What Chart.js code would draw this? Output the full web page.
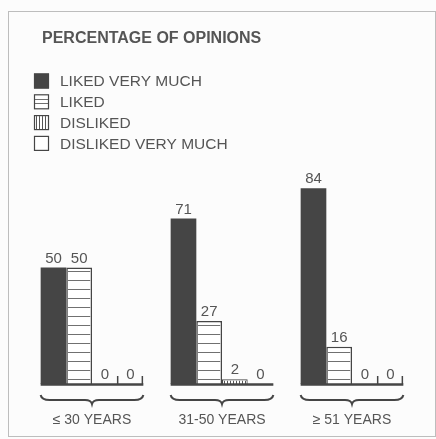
<!DOCTYPE html>
<html>
<head>
<meta charset="utf-8">
<script src="https://cdn.jsdelivr.net/npm/chart.js@4.4.1/dist/chart.umd.min.js"></script>
<style>
  html, body { margin: 0; padding: 0; background: #fcfcfc; }
  #chart { display: block; }
</style>
</head>
<body>
<canvas id="chart" width="436" height="439"></canvas>
<script>
// ── data ──
const categories = ['\u2264 30 YEARS', '31-50 YEARS', '\u2265 51 YEARS'];
const seriesNames = ['LIKED VERY MUCH', 'LIKED', 'DISLIKED', 'DISLIKED VERY MUCH'];
const likedVeryMuch = [50, 71, 84];
const liked = [50, 27, 16];
const disliked = [0, 2, 0];
const dislikedVeryMuch = [0, 0, 0];
const chartTitle = 'PERCENTAGE OF OPINIONS';

const INK = '#454545';
const TEXT = '#555';
const FONT = '"Liberation Sans", Arial, Helvetica, sans-serif';

// hatch style per series: none / horizontal / vertical / none
const hatch = [null, { dir: 'h', step: 9, color: '#707070' }, { dir: 'v', step: 3, color: '#555' }, null];
const fills = [INK, '#fff', '#fff', '#fff'];

function drawHatch(ctx, x, y, w, h, style) {
  if (!style || h <= 0) return;
  ctx.save();
  ctx.beginPath();
  ctx.rect(x, y, w, h);
  ctx.clip();
  ctx.fillStyle = style.color;
  if (style.dir === 'h') {
    for (let yy = y + h - 5; yy > y; yy -= style.step) ctx.fillRect(x, Math.round(yy), w, 1);
  } else {
    for (let xx = x + 1; xx < x + w; xx += style.step) ctx.fillRect(Math.round(xx), y, 1, h);
  }
  ctx.restore();
}

// ── draw title, legend, baselines, labels, braces ──
const decorations = {
  id: 'decorations',
  beforeDraw(chart) {
    const ctx = chart.ctx;
    ctx.save();
    ctx.fillStyle = '#fcfcfc';
    ctx.fillRect(0, 0, chart.width, chart.height);
    // frame
    ctx.strokeStyle = '#bdbdbd';
    ctx.lineWidth = 1;
    ctx.strokeRect(8.5, 11.5, 427, 425);
    // title
    ctx.fillStyle = TEXT;
    ctx.font = 'bold 16px ' + FONT;
    ctx.textBaseline = 'middle';
    ctx.fillText(chartTitle, 42, 39);
    // legend
    ctx.font = '15.5px ' + FONT;
    seriesNames.forEach((name, i) => {
      const y = 81 + i * 20.8;
      ctx.fillStyle = fills[i];
      ctx.fillRect(34, y - 7.5, 15, 15);
      if (hatch[i]) drawHatch(ctx, 35, y - 6.5, 13, 13, Object.assign({}, hatch[i], { step: hatch[i].dir === 'h' ? 4 : 3 }));
      ctx.strokeStyle = INK;
      ctx.lineWidth = 1.2;
      ctx.strokeRect(34.5, y - 7, 14, 14);
      ctx.fillStyle = TEXT;
      ctx.fillText(name, 60, y + 1);
    });
    ctx.restore();
  },
  afterDatasetsDraw(chart) {
    const ctx = chart.ctx;
    const metas = chart.data.datasets.map((_, i) => chart.getDatasetMeta(i));
    const yBase = chart.scales.y.getPixelForValue(0);
    ctx.save();
    // hatching inside bars
    metas.forEach((m, di) => {
      m.data.forEach(el => {
        const bw = chart.data.datasets[di].borderWidth || 0;
        drawHatch(ctx, el.x - el.width / 2 + bw, el.y + bw, el.width - 2 * bw, yBase - el.y - bw, hatch[di]);
      });
    });
    ctx.strokeStyle = INK;
    ctx.fillStyle = TEXT;
    categories.forEach((cat, gi) => {
      const first = metas[0].data[gi];
      const last = metas[metas.length - 1].data[gi];
      const L = first.x - first.width / 2;
      const R = last.x + last.width / 2;
      const C = chart.scales.x.getPixelForValue(gi);
      // baseline
      ctx.lineWidth = 2.5;
      ctx.beginPath();
      ctx.moveTo(L, yBase + 0.5);
      ctx.lineTo(R, yBase + 0.5);
      ctx.stroke();
      // little ticks where the last two bars are empty
      if (disliked[gi] === 0 && dislikedVeryMuch[gi] === 0) {
        const el = metas[3].data[gi];
        ctx.lineWidth = 1.5;
        [el.x - el.width / 2, el.x + el.width / 2 - 1].forEach(tx => {
          ctx.beginPath();
          ctx.moveTo(tx, yBase);
          ctx.lineTo(tx, yBase - 8);
          ctx.stroke();
        });
      }
      // value labels
      ctx.font = '15px ' + FONT;
      ctx.textAlign = 'center';
      ctx.textBaseline = 'alphabetic';
      metas.forEach((m, di) => {
        const el = m.data[gi];
        const v = chart.data.datasets[di].data[gi];
        ctx.fillText(String(v), el.x, el.y - 5);
      });
      // brace
      const yb = 400;
      ctx.lineWidth = 2;
      ctx.beginPath();
      ctx.moveTo(L, yb - 5);
      ctx.quadraticCurveTo(L + 1, yb, L + 9, yb);
      ctx.lineTo(C - 7, yb);
      ctx.quadraticCurveTo(C - 1, yb, C, yb + 4);
      ctx.quadraticCurveTo(C + 1, yb, C + 7, yb);
      ctx.lineTo(R - 9, yb);
      ctx.quadraticCurveTo(R - 1, yb, R, yb - 5);
      ctx.stroke();
      // category label
      ctx.font = '14px ' + FONT;
      ctx.textBaseline = 'middle';
      ctx.fillText(cat, C, 420);
    });
    ctx.restore();
  }
};

new Chart(document.getElementById('chart'), {
  type: 'bar',
  data: {
    labels: categories,
    datasets: [
      { label: seriesNames[0], data: likedVeryMuch, backgroundColor: fills[0], borderWidth: 0 },
      { label: seriesNames[1], data: liked, backgroundColor: fills[1], borderColor: INK, borderWidth: 1.5 },
      { label: seriesNames[2], data: disliked, backgroundColor: fills[2], borderColor: INK, borderWidth: 1.2 },
      { label: seriesNames[3], data: dislikedVeryMuch, backgroundColor: fills[3], borderColor: INK, borderWidth: 1.2 }
    ]
  },
  options: {
    responsive: false,
    animation: false,
    devicePixelRatio: 1,
    categoryPercentage: 0.79,
    barPercentage: 1,
    layout: { padding: { left: 27, right: 19, top: 151, bottom: 55 } },
    plugins: {
      legend: { display: false },
      title: { display: false },
      tooltip: { enabled: false }
    },
    scales: {
      x: { display: false },
      y: { display: false, min: 0, max: 100 }
    }
  },
  plugins: [decorations]
});
</script>
</body>
</html>
